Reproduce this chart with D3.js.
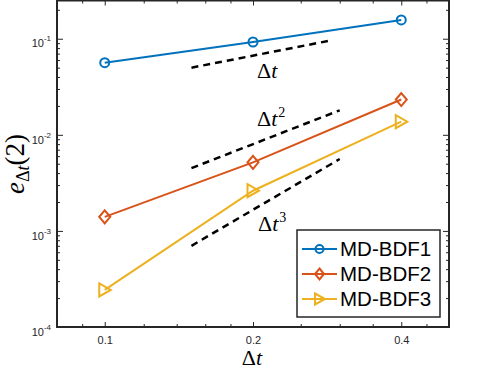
<!DOCTYPE html>
<html><head><meta charset="utf-8">
<script src="https://cdn.jsdelivr.net/npm/d3@7"></script>
<style>
html,body{margin:0;padding:0;background:#fff;}
svg{display:block;}
</style></head>
<body>
<svg id="chart" width="498" height="374"></svg>
<script>
// ---- data ----
const dt = [0.1, 0.2, 0.4];
const bdf1 = [0.0563, 0.0925, 0.157];
const bdf2 = [0.0014, 0.00517, 0.0233];
const bdf3 = [0.000243, 0.00262, 0.0137];
const seriesNames = ["MD-BDF1", "MD-BDF2", "MD-BDF3"];
const refDt1 = [0.15, 0.29];
const refDt = [0.15, 0.3];
const ref1 = [0.05, 0.0967];
const ref2 = [0.0045, 0.018];
const ref3 = [0.0007, 0.0056];
const xTicks = [0.1, 0.2, 0.4];
const xTickLabels = ["0.1", "0.2", "0.4"];
const xMinor = [0.09, 0.12, 0.14, 0.16, 0.18, 0.25, 0.3, 0.35, 0.45];
const yTicks = [1e-4, 1e-3, 1e-2, 1e-1];
const yTickExps = ["-4", "-3", "-2", "-1"];

// ---- layout ----
const L = 57, R = 449, T = 0.5, B = 327;
const svg = d3.select("#chart");
const x = d3.scaleLog().domain([0.08, 0.5]).range([L, R]);
const y = d3.scaleLog().domain([1e-4, 0.25]).range([B, T]);
const colors = ["#0072BD", "#D95319", "#EDB120"];
const axisColor = "#262626";

// minor y ticks
const yMinor = [];
for (let e = -4; e <= -1; e++) for (let k = 2; k <= 9; k++) { const v = k * Math.pow(10, e); if (v <= 0.25) yMinor.push(v); }

function styleAxis(g) {
  g.select(".domain").remove();
  g.selectAll(".tick line").attr("stroke", axisColor).attr("stroke-width", 1);
}
// bottom major
svg.append("g").attr("transform", `translate(0,${B})`)
  .call(d3.axisBottom(x).tickValues(xTicks).tickSize(-5).tickFormat((d, i) => xTickLabels[i]))
  .call(styleAxis)
  .call(g => g.selectAll("text").attr("y", 13).attr("dy", "0.32em")
    .attr("font-family", "Liberation Sans, Arial, sans-serif").attr("font-size", 11).attr("fill", axisColor));
svg.append("g").attr("transform", `translate(0,${B})`)
  .call(d3.axisBottom(x).tickValues(xMinor).tickSize(-3).tickFormat(""))
  .call(styleAxis);
// top mirror
svg.append("g").attr("transform", `translate(0,${T})`)
  .call(d3.axisTop(x).tickValues(xTicks).tickSize(-5).tickFormat(""))
  .call(styleAxis);
svg.append("g").attr("transform", `translate(0,${T})`)
  .call(d3.axisTop(x).tickValues(xMinor).tickSize(-3).tickFormat(""))
  .call(styleAxis);
// left major
const yAx = svg.append("g").attr("transform", `translate(${L},0)`)
  .call(d3.axisLeft(y).tickValues(yTicks).tickSize(-6).tickFormat(""))
  .call(styleAxis);
yAx.selectAll(".tick").each(function (d, i) {
  const t = d3.select(this).append("text")
    .attr("x", -6).attr("y", 8.2).attr("text-anchor", "end")
    .attr("font-family", "Liberation Sans, Arial, sans-serif").attr("fill", axisColor);
  t.append("tspan").attr("font-size", 11).text("10");
  t.append("tspan").attr("font-size", 8).attr("dy", -6).text(yTickExps[i]);
});
svg.append("g").attr("transform", `translate(${L},0)`)
  .call(d3.axisLeft(y).tickValues(yMinor).tickSize(-3).tickFormat(""))
  .call(styleAxis);
// right mirror
svg.append("g").attr("transform", `translate(${R},0)`)
  .call(d3.axisRight(y).tickValues(yTicks).tickSize(-6).tickFormat(""))
  .call(styleAxis);
svg.append("g").attr("transform", `translate(${R},0)`)
  .call(d3.axisRight(y).tickValues(yMinor).tickSize(-3).tickFormat(""))
  .call(styleAxis);

// frame
svg.append("rect").attr("x", L).attr("y", T).attr("width", R - L).attr("height", B - T)
  .attr("fill", "none").attr("stroke", axisColor).attr("stroke-width", 2);

// reference dashed lines
const line = d3.line().x(d => x(d[0])).y(d => y(d[1]));
[[refDt1, ref1], [refDt, ref2], [refDt, ref3]].forEach(([rx, r]) => {
  svg.append("path").attr("d", line(rx.map((v, i) => [v, r[i]])))
    .attr("fill", "none").attr("stroke", "#000").attr("stroke-width", 2.5)
    .attr("stroke-dasharray", "7,5");
});

// markers
function drawMarker(g, type, cx, cy, color) {
  if (type === 0) {
    g.append("circle").attr("cx", cx).attr("cy", cy).attr("r", 4.5)
      .attr("fill", "none").attr("stroke", color).attr("stroke-width", 2);
  } else if (type === 1) {
    g.append("path").attr("d", `M${cx},${cy - 6.5}L${cx + 5.5},${cy}L${cx},${cy + 6.5}L${cx - 5.5},${cy}Z`)
      .attr("fill", "none").attr("stroke", color).attr("stroke-width", 2);
  } else {
    g.append("path").attr("d", `M${cx - 5.5},${cy - 6.5}L${cx + 6},${cy}L${cx - 5.5},${cy + 6.5}Z`)
      .attr("fill", "none").attr("stroke", color).attr("stroke-width", 2);
  }
}

// series
[bdf1, bdf2, bdf3].forEach((s, si) => {
  const pts = dt.map((v, i) => [v, s[i]]);
  svg.append("path").attr("d", line(pts)).attr("fill", "none")
    .attr("stroke", colors[si]).attr("stroke-width", 2);
  const g = svg.append("g");
  pts.forEach(p => drawMarker(g, si, x(p[0]), y(p[1]), colors[si]));
});

// annotations
const serif = "Liberation Serif, Times New Roman, serif";
function deltaLabel(px, py, sup) {
  const t = svg.append("text").attr("x", px).attr("y", py)
    .attr("font-family", serif).attr("font-size", 22).attr("fill", "#000");
  t.append("tspan").text("Δ");
  t.append("tspan").attr("font-style", "italic").text("t");
  if (sup) t.append("tspan").attr("font-size", 14).attr("dy", -9).attr("dx", 1).text(sup);
}
deltaLabel(257, 78, null);
deltaLabel(257, 126, "2");
deltaLabel(258, 231, "3");

// axis labels
const xl = svg.append("text").attr("x", 252).attr("y", 365).attr("text-anchor", "middle")
  .attr("font-family", serif).attr("font-size", 22).attr("fill", "#000");
xl.append("tspan").text("Δ");
xl.append("tspan").attr("font-style", "italic").text("t");

const yl = svg.append("text").attr("transform", "translate(24,164) rotate(-90)")
  .attr("text-anchor", "middle").attr("font-family", serif).attr("font-size", 27).attr("fill", "#000");
yl.append("tspan").attr("font-style", "italic").text("e");
yl.append("tspan").attr("font-size", 18).attr("dy", 5).text("Δ");
yl.append("tspan").attr("font-size", 18).attr("font-style", "italic").text("t");
yl.append("tspan").attr("dy", -5).text("(2)");

// legend
const lg = svg.append("g");
lg.append("rect").attr("x", 297).attr("y", 230).attr("width", 143).attr("height", 87)
  .attr("fill", "#fff").attr("stroke", axisColor).attr("stroke-width", 1.5);
seriesNames.forEach((n, i) => {
  const ry = 249 + i * 25;
  lg.append("line").attr("x1", 302).attr("x2", 337).attr("y1", ry).attr("y2", ry)
    .attr("stroke", colors[i]).attr("stroke-width", 2);
  const mg = lg.append("g");
  if (i === 0) mg.append("circle").attr("cx", 319.5).attr("cy", ry).attr("r", 4)
      .attr("fill", "none").attr("stroke", colors[i]).attr("stroke-width", 2);
  else if (i === 1) mg.append("path").attr("d", `M319.5,${ry - 5.5}L324,${ry}L319.5,${ry + 5.5}L315,${ry}Z`)
      .attr("fill", "none").attr("stroke", colors[i]).attr("stroke-width", 2);
  else mg.append("path").attr("d", `M315,${ry - 5.5}L325,${ry}L315,${ry + 5.5}Z`)
      .attr("fill", "none").attr("stroke", colors[i]).attr("stroke-width", 2);
  lg.append("text").attr("x", 340).attr("y", ry).attr("dy", "0.36em")
    .attr("font-family", "Liberation Sans, Arial, sans-serif").attr("font-size", 20.5)
    .attr("fill", "#000").text(n);
});
</script>
</body></html>
